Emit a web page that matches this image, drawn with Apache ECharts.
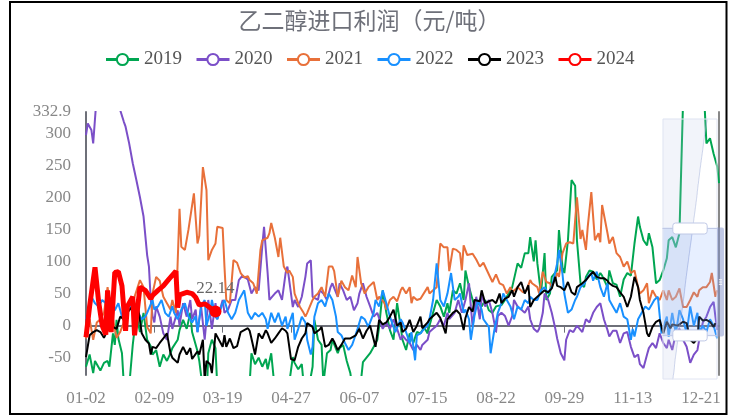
<!DOCTYPE html>
<html><head><meta charset="utf-8">
<script src="https://cdn.jsdelivr.net/npm/echarts/dist/echarts.min.js"></script>
<style>html,body{margin:0;padding:0;background:#fff}#c{width:739px;height:416px}</style>
</head><body><div id="c"></div>
<script>
// ---- categories (MM-DD union of trading days) ----
const monthDays = [31,28,31,30,31,30,31,31,30,31,30,31];
const skippedDays = ['01-01','04-05','05-01','05-02','05-03','10-01','10-02','10-03','10-04','10-05','10-06','10-07'];
const categories = [];
for (let m = 0; m < 12; m++) for (let d = 1; d <= monthDays[m]; d++) {
  const s = String(m + 1).padStart(2, '0') + '-' + String(d).padStart(2, '0');
  if (!skippedDays.includes(s)) categories.push(s);
}
const tickLabels = ['01-02','02-09','03-19','04-27','06-07','07-15','08-22','09-29','11-13','12-21'];

// ---- series: [category index, value] ----
const s2019 = [[0,-64],[2,-45],[4,-74],[5,-55],[8,-70],[10,-58],[12,-55],[13,-64],[15,-12],[16,-30],[17,9],[18,-20],[20,-43],[21,-90],[23,-110],[24,-95],[26,-30],[28,18],[30,-10],[32,20],[34,-22],[36,-32],[37,-45],[39,-38],[41,-64],[43,-45],[45,-55],[47,-43],[48,-35],[51,-22],[52,-7],[54,9],[56,-5],[58,20],[59,-10],[62,-40],[63,-55],[65,-100],[67,-120],[68,-43],[70,-22],[72,-35],[73,-95],[76,-130],[78,-160],[80,-190],[83,-239],[86,-200],[88,-150],[91,-90],[92,-43],[94,-60],[96,-50],[98,-64],[100,-52],[101,-68],[103,-43],[105,-100],[107,-130],[109,-140],[111,-110],[113,-90],[115,-49],[116,-58],[118,-68],[120,-60],[121,-90],[122,-110],[124,-95],[126,-64],[127,9],[129,-22],[131,-30],[132,-90],[134,-43],[136,-38],[137,-22],[140,-43],[141,-35],[143,-30],[145,-55],[147,-74],[148,-95],[150,-120],[152,-110],[154,-57],[156,-50],[158,-43],[160,-33],[162,-22],[163,-2],[165,55],[167,20],[169,-7],[171,-22],[173,35],[175,-2],[176,-22],[178,-38],[180,-12],[182,-27],[184,-10],[186,-12],[188,-3],[190,-12],[191,0],[193,20],[195,40],[197,30],[199,14],[201,35],[202,20],[204,55],[206,50],[208,66],[210,40],[211,86],[213,60],[215,40],[216,30],[218,35],[220,30],[222,40],[224,24],[226,20],[228,30],[229,28],[231,32],[233,40],[235,50],[237,60],[238,63],[240,97],[242,90],[244,113],[246,113],[247,138],[249,100],[250,133],[251,97],[253,50],[255,113],[256,40],[258,50],[259,76],[262,86],[263,149],[265,90],[266,82],[268,133],[270,227],[272,218],[273,133],[275,66],[277,60],[278,76],[280,86],[282,84],[284,72],[286,82],[287,78],[290,60],[291,86],[293,66],[295,64],[297,45],[299,72],[301,82],[303,78],[305,128],[307,170],[308,154],[310,133],[312,125],[313,144],[315,122],[317,66],[319,71],[321,86],[323,105],[324,133],[326,138],[328,122],[330,144],[333,450],[336,680],[338,743],[340,600],[343,400],[345,284],[347,292],[349,268],[351,248],[352,222]];
const s2020 = [[0,297],[1,315],[3,305],[4,284],[6,360],[8,420],[10,480],[12,520],[14,470],[17,400],[19,336],[21,318],[22,310],[24,284],[26,253],[28,227],[30,200],[32,170],[33,140],[34,110],[35,92],[36,40],[37,15],[38,5],[39,30],[41,14],[43,-12],[45,-22],[47,14],[48,-5],[51,24],[52,0],[54,35],[56,14],[58,40],[59,10],[61,25],[62,-10],[64,30],[66,-22],[68,40],[70,-5],[72,35],[73,10],[76,40],[77,20],[79,25],[81,40],[83,40],[85,71],[87,78],[88,76],[90,72],[92,50],[94,60],[96,55],[98,123],[99,154],[101,82],[102,40],[103,40],[105,50],[107,55],[109,40],[111,82],[112,92],[115,29],[116,40],[118,29],[120,45],[122,76],[123,97],[125,102],[126,45],[129,40],[130,55],[132,50],[134,40],[136,60],[137,66],[140,45],[141,66],[143,55],[145,40],[147,45],[149,24],[151,35],[152,50],[154,66],[156,45],[158,30],[160,14],[162,20],[163,20],[165,-5],[167,5],[169,-5],[171,10],[173,-5],[175,-22],[176,-15],[178,-22],[180,-27],[182,-38],[184,-30],[186,-38],[187,-30],[190,-22],[191,-10],[193,-5],[195,0],[197,10],[199,0],[201,20],[202,10],[205,20],[207,40],[209,20],[211,40],[213,66],[214,30],[215,-2],[217,45],[219,10],[220,50],[222,30],[224,40],[226,20],[228,-10],[229,15],[231,20],[233,15],[235,0],[237,15],[238,40],[240,30],[242,25],[244,20],[246,30],[247,10],[249,-5],[251,-10],[252,-5],[254,20],[255,50],[257,40],[259,20],[261,-5],[262,-20],[264,-43],[266,-54],[267,-22],[269,-7],[271,-10],[273,0],[274,-2],[276,-10],[278,10],[280,5],[282,20],[284,29],[286,35],[288,10],[290,-7],[291,-17],[293,-8],[295,-8],[297,-27],[299,-12],[301,-10],[303,-33],[305,-49],[307,-45],[308,-60],[310,-66],[312,-45],[313,-35],[315,-27],[317,-35],[319,-12],[321,-27],[323,-35],[324,-22],[326,-38],[328,-12],[330,-5],[332,-22],[334,-33],[336,-58],[338,-45],[340,-38],[341,-22],[343,5],[345,14],[347,29],[349,37],[350,14],[351,-7]];
const s2021 = [[0,-20],[2,10],[4,-22],[6,5],[8,10],[10,20],[12,60],[13,40],[15,10],[17,-19],[19,-10],[21,5],[23,30],[24,35],[27,45],[30,71],[32,60],[34,-2],[36,-12],[37,50],[39,76],[41,70],[43,45],[45,35],[47,25],[48,40],[50,20],[52,182],[53,123],[55,118],[57,150],[58,150],[60,206],[62,128],[63,140],[65,247],[67,211],[68,102],[70,118],[72,128],[73,154],[76,152],[77,92],[78,40],[80,35],[82,102],[84,98],[86,82],[88,75],[90,77],[91,71],[93,66],[95,50],[97,118],[98,133],[101,137],[102,144],[103,160],[105,137],[107,107],[108,137],[110,92],[112,82],[113,86],[115,76],[116,50],[118,35],[119,29],[121,20],[122,14],[123,20],[126,40],[127,45],[129,50],[131,60],[133,45],[135,92],[137,92],[138,85],[140,45],[142,70],[144,60],[146,55],[148,78],[150,60],[151,107],[153,66],[155,50],[157,60],[158,62],[160,68],[162,40],[163,45],[166,35],[167,25],[169,40],[171,45],[173,38],[175,55],[176,60],[178,50],[180,60],[181,35],[182,45],[184,40],[186,42],[187,40],[190,60],[191,50],[193,55],[195,60],[196,97],[197,128],[199,122],[201,122],[202,85],[204,120],[206,118],[208,113],[209,86],[210,125],[212,110],[213,108],[215,112],[217,103],[219,92],[221,98],[223,86],[224,84],[226,68],[228,80],[230,66],[232,63],[234,50],[236,60],[237,52],[240,60],[241,62],[243,52],[245,55],[247,71],[248,66],[251,60],[252,50],[254,84],[256,68],[258,66],[259,60],[262,82],[263,76],[265,113],[267,128],[269,130],[271,128],[273,200],[275,135],[276,149],[278,118],[279,154],[281,208],[283,133],[285,144],[286,130],[287,188],[290,144],[291,128],[293,138],[295,113],[297,107],[299,92],[301,100],[303,82],[305,86],[307,60],[308,50],[310,55],[312,66],[313,35],[315,55],[317,45],[319,40],[321,55],[323,40],[324,55],[326,40],[328,45],[330,58],[332,29],[334,29],[336,40],[338,52],[340,45],[341,55],[343,60],[345,60],[347,68],[348,82],[350,45],[351,55]];
const s2022 = [[0,10],[1,20],[3,45],[5,35],[7,30],[9,40],[11,35],[12,35],[14,30],[16,24],[18,35],[20,14],[22,30],[23,20],[26,35],[27,28],[29,20],[31,10],[33,14],[34,20],[37,40],[38,25],[40,30],[42,40],[44,20],[46,14],[48,30],[49,20],[51,10],[53,25],[55,35],[57,14],[59,5],[61,15],[62,-10],[64,30],[66,40],[67,0],[69,20],[70,40],[72,14],[73,10],[76,35],[77,40],[79,20],[81,10],[83,20],[85,40],[87,50],[88,55],[90,20],[92,10],[94,20],[96,14],[98,20],[100,10],[101,-5],[103,20],[105,5],[107,20],[109,0],[111,14],[112,-5],[115,20],[116,-22],[118,-5],[120,14],[122,5],[123,-22],[125,-45],[126,-33],[127,14],[129,35],[131,40],[133,30],[135,50],[137,40],[139,14],[140,-10],[142,-15],[144,-27],[146,-38],[148,-30],[149,-22],[151,-5],[153,14],[155,10],[157,-2],[160,20],[161,40],[163,30],[165,55],[167,35],[169,14],[171,-2],[172,-10],[175,10],[176,5],[178,-10],[180,-27],[181,-10],[183,-54],[184,-15],[186,-12],[188,-5],[190,0],[191,10],[193,40],[195,97],[197,40],[199,30],[201,50],[203,82],[205,40],[207,45],[208,50],[210,20],[211,25],[213,10],[214,-22],[216,15],[218,40],[220,25],[221,10],[224,-2],[225,-43],[227,-8],[229,20],[231,35],[232,50],[235,35],[236,30],[238,10],[240,30],[242,25],[244,40],[246,35],[247,45],[249,40],[251,40],[253,55],[255,60],[257,50],[259,60],[260,71],[262,97],[263,118],[265,80],[266,50],[268,20],[270,25],[272,40],[273,45],[275,60],[277,65],[279,76],[281,82],[282,70],[284,84],[286,60],[288,45],[290,66],[291,40],[293,30],[295,20],[297,35],[299,14],[301,10],[303,-22],[304,-5],[305,-17],[307,10],[309,20],[311,30],[313,25],[315,35],[316,40],[318,45],[320,-12],[321,-10],[323,14],[324,-17],[326,20],[328,-12],[330,24],[332,10],[334,-12],[336,30],[338,0],[340,20],[341,-10],[343,0],[345,-10],[347,10],[349,0],[351,-20]];
const s2023 = [[0,-49],[2,-15],[4,-10],[6,-7],[8,-10],[10,-19],[12,-7],[13,-10],[15,-2],[17,-5],[19,14],[21,10],[23,20],[24,24],[26,30],[29,28],[31,-12],[33,-22],[35,-28],[36,-45],[37,-33],[39,-35],[41,-27],[43,-20],[45,-12],[47,-43],[48,-50],[51,-58],[52,-45],[54,-33],[56,-45],[58,-35],[59,-52],[62,-40],[63,-45],[65,-22],[66,-85],[67,-55],[69,-60],[70,-74],[72,-12],[73,-10],[76,-33],[77,-15],[78,-33],[80,-20],[82,-35],[84,-32],[86,-10],[87,-8],[90,-4],[91,-8],[92,-20],[94,-45],[96,-12],[98,-20],[100,-7],[101,-12],[103,-27],[105,-20],[107,-12],[109,-4],[111,-8],[112,-12],[114,-52],[116,-54],[118,-33],[120,-20],[122,-12],[123,4],[126,-2],[127,-12],[130,-6],[131,-2],[133,-33],[135,-30],[137,-20],[138,-25],[140,-38],[142,-30],[144,-20],[147,-20],[150,-15],[151,-12],[152,-5],[154,-20],[156,-8],[158,0],[161,-33],[163,9],[165,2],[167,5],[169,14],[171,25],[173,0],[175,5],[176,-10],[178,-5],[180,9],[182,-10],[184,0],[186,14],[187,-4],[190,5],[191,10],[193,15],[195,20],[197,12],[200,-12],[201,10],[204,20],[206,24],[208,18],[210,-7],[211,12],[213,29],[215,22],[216,40],[219,38],[220,55],[222,35],[224,38],[226,40],[228,35],[230,50],[231,35],[233,42],[235,45],[237,55],[238,45],[240,60],[242,68],[244,50],[246,63],[247,29],[249,40],[251,45],[253,50],[255,55],[257,52],[259,58],[261,76],[262,62],[264,60],[266,55],[268,68],[270,52],[272,48],[273,60],[276,66],[278,71],[280,78],[282,84],[284,76],[286,74],[288,74],[290,70],[291,66],[293,62],[295,60],[297,52],[299,45],[301,29],[303,45],[305,76],[307,60],[308,40],[310,20],[312,-12],[313,-17],[315,-2],[317,6],[319,9],[321,-12],[323,6],[325,-4],[326,2],[329,0],[332,6],[334,4],[336,-22],[338,-27],[340,-20],[341,14],[343,8],[345,9],[347,6],[349,-2],[350,4]];
const s2024 = [[0,-18],[2,30],[5,91],[7,38],[9,0],[11,-14],[12,55],[14,-10],[16,83],[18,84],[20,62],[22,-8],[23,30],[26,45],[27,-15],[30,60],[33,55],[36,42],[37,47],[40,55],[43,62],[46,72],[50,85],[51,28],[52,48],[56,52],[59,50],[61,44],[63,32],[66,34],[69,28],[72,22.14]];

const seriesNames = ['2019','2020','2021','2022','2023','2024'];
const seriesColors = ['#00A651','#7B4FC8','#E8703A','#1890FF','#000000','#FF0000'];
const seriesValues = [s2019, s2020, s2021, s2022, s2023, s2024];

const SERIF = 'Liberation Serif';
const showTick = (i, v) => tickLabels.includes(v);
const last2024 = s2024[s2024.length - 1];

const series = seriesNames.map((n, k) => ({
  name: n, type: 'line', data: seriesValues[k], xAxisIndex: 0, yAxisIndex: 0,
  symbol: 'emptyCircle', showSymbol: false, silent: true,
  lineStyle: { width: k === 5 ? 5 : 2, color: seriesColors[k] },
  itemStyle: { color: seriesColors[k] }
}));
series[5].markPoint = {
  symbol: 'circle', symbolSize: 12, silent: true,
  itemStyle: { color: '#FF0000' },
  label: { show: true, position: 'top', distance: 8, color: '#666', fontFamily: SERIF, fontSize: 17 },
  data: [{ coord: last2024, value: last2024[1] }]
};

const chart = echarts.init(document.getElementById('c'));
chart.setOption({
  animation: false,
  backgroundColor: '#fff',
  title: { text: '乙二醇进口利润（元/吨）', left: 'center', top: 4,
    textStyle: { color: '#6E7079', fontSize: 23, fontWeight: 'normal', fontFamily: 'Noto Sans CJK SC' } },
  legend: { top: 45, left: 'center', itemWidth: 33, itemHeight: 14, itemGap: 13,
    textStyle: { color: '#555', fontSize: 19, fontFamily: SERIF },
    lineStyle: { width: 3 }, itemStyle: { borderWidth: 3 } },
  grid: { left: 86, right: 20, top: 112, bottom: 41, containLabel: false, outerBoundsMode: 'none' },
  xAxis: [{
    type: 'category', data: categories, boundaryGap: false,
    axisLine: { onZero: true, onZeroAxisIndex: 0, lineStyle: { color: '#6E7079', width: 2 } },
    axisTick: { show: true, interval: showTick, length: 7, lineStyle: { color: '#6E7079' } },
    axisLabel: { show: false },
    splitLine: { show: false }
  }, {
    type: 'category', data: categories, boundaryGap: false, position: 'bottom',
    axisLine: { show: false, onZero: false }, axisTick: { show: false },
    axisLabel: { interval: showTick, margin: 15, color: '#888', fontFamily: SERIF, fontSize: 17 },
    splitLine: { show: false }
  }],
  yAxis: [{
    type: 'value', splitNumber: 8,
    axisLine: { show: true, lineStyle: { color: '#6E7079', width: 2 } },
    axisTick: { show: false }, splitLine: { show: false },
    axisLabel: { color: '#888', fontFamily: SERIF, fontSize: 17, margin: 15, showMaxLabel: true, showMinLabel: false }
  }, {
    type: 'value', position: 'right',
    axisLine: { show: true, lineStyle: { color: '#888', width: 2 } },
    axisTick: { show: false }, axisLabel: { show: false }, splitLine: { show: false }
  }],
  dataZoom: [{
    type: 'slider', yAxisIndex: 0, orient: 'vertical', filterMode: 'none',
    startValue: -76.9, endValue: 332.9,
    left: 662, top: 116, width: 55, height: 261
  }],
  graphic: [{ type: 'rect', silent: true, z: 100,
    shape: { x: 10, y: 2, width: 716.5, height: 412 },
    style: { fill: 'none', stroke: '#000', lineWidth: 2 } }],
  series: series
});
</script></body></html>
